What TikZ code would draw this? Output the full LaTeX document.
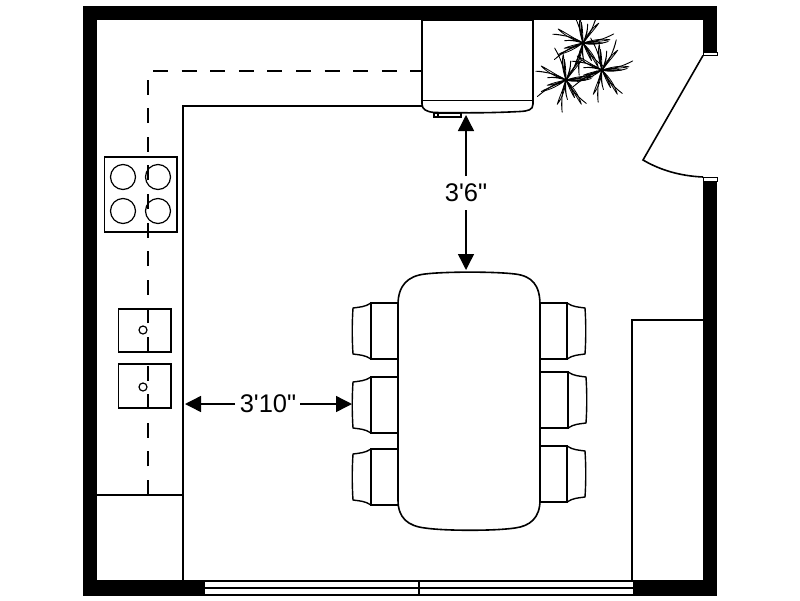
\documentclass[tikz,border=0pt]{standalone}
\usepackage{fontspec}
\newfontfamily\lab{Liberation Sans}
\usetikzlibrary{arrows.meta}
\tikzset{
  x=1pt,y=-1pt,
  line/.style={draw=black,line width=1.6pt},
  thin line/.style={draw=black,line width=1.2pt},
  wall/.style={fill=black,draw=none},
  dashline/.style={draw=black,line width=1.6pt,dash pattern=on 15pt off 13.6pt},
  dim/.style={draw=black,line width=1.4pt,-{Triangle[length=16pt,width=16pt]},shorten >=0pt},
  dimtext/.style={font=\lab\fontsize{25.5}{25.5}\selectfont,inner sep=0pt},
  chair/.pic={
    \draw[line,line width=1.4pt,line join=round] (-27,0) .. controls (-33,4) and (-38,4) .. (-45,5)
      .. controls (-46,20) and (-46,36) .. (-45,51) .. controls (-38,52) and (-33,52) .. (-27,56);
    \draw[line] (0,0) -- (-27,0) -- (-27,56) -- (0,56);
  },
  leaf/.style={draw=black,line width=.8pt,line join=round},
  plant/.pic={
    \foreach \a/\l/\b in {2/31/-5,24/26/5,48/32/-6,70/24/5,96/33/-5,118/24/6,146/30/-6,170/27/6,196/32/-5,222/26/5,246/31/-6,272/24/6,296/30/-5,322/27/6,345/24/-5,
      14/19/3,62/19/-3,108/20/3,158/18/-3,210/19/3,260/19/-3,310/19/3}{
      \draw[leaf,rotate=\a] (0,0) .. controls (.35*\l,.2*\b) and (.7*\l,.6*\b) .. (\l,1.6*\b)
        .. controls (.7*\l,\b+1.2) and (.35*\l,.2*\b+1.5) .. (0,0);
    }
    \fill (0,0) circle (2pt);
  }
}
\begin{document}
\begin{tikzpicture}
\useasboundingbox (0,0) rectangle (800,600);
\fill[white] (0,0) rectangle (800,600);
% walls
\fill[wall] (83,6) rectangle (717,20);
\fill[wall] (83,6) rectangle (97,596);
\fill[wall] (703,6) rectangle (717,53);
\fill[wall] (703,177) rectangle (717,596);
\fill[wall] (83,580) rectangle (204,596);
\fill[wall] (634,580) rectangle (717,596);
% door jambs
\draw[thin line,fill=white,line width=.6pt] (703,52) rectangle (717,55.5);
\draw[thin line,fill=white,line width=.6pt] (703,177) rectangle (717,181);
% window
\draw[thin line,fill=white] (204,581) rectangle (634,595);
\draw[line] (204,588) -- (634,588);
\draw[line] (419,581) -- (419,595);
% counters
\draw[line] (183,580) -- (183,106) -- (422,106);
\draw[line] (97,495) -- (183,495);
\draw[line] (632,580) -- (632,320) -- (703,320);
\coordinate (dashA) at (148,495);
\coordinate (dashB) at (148,71);
\coordinate (dashC) at (422,71);
\draw[dashline] (dashA) -- (dashB) -- (dashC);
% hob
\draw[thin line] (104.5,157) rectangle (177,232);
\foreach \p in {(123,177),(158,177),(123,211),(158,211)}
  \draw[thin line] \p circle (12.5);
% sinks
\draw[thin line] (118.5,309) rectangle (171,352);
\draw[thin line] (118.5,364) rectangle (171,408);
\draw[thin line,fill=white] (143,330) circle (4);
\draw[thin line,fill=white] (143,387) circle (4);
% fridge
\draw[line,fill=white] (422,20) -- (533,20) -- (533,104) .. controls (533,110) and (528,111) .. (520,111.5)
  .. controls (490,113) and (470,113) .. (435,112.5) .. controls (426,112) and (422,109) .. (422,104) -- cycle;
\draw[line] (422,100.5) -- (533,100.5);
\draw[thin line] (434,113) rectangle (461,117);
\draw[thin line] (438,113) -- (438,116);
% plant
\begin{scope}
\clip (535,20) rectangle (700,130);
\path (583,43) pic {plant};
\path (602,70) pic {plant};
\path (566,80) pic {plant};
\end{scope}
% door leaf
\draw[line] (703,55.5) -- (643,160) .. controls (660,170) and (680,176) .. (703,177);
% chairs
\path (398,303) pic {chair};
\path (398,377) pic {chair};
\path (398,449) pic {chair};
\path (540,303) pic[xscale=-1] {chair};
\path (541,372) pic[xscale=-1] {chair};
\path (540,446) pic[xscale=-1] {chair};
% table
\draw[line,fill=white] (398,500) -- (398,305) .. controls (398,285) and (408,276) .. (425,274)
  .. controls (445,271.5) and (495,271.5) .. (515,274) .. controls (532,276) and (540,285) .. (540,305)
  -- (540,500) .. controls (540,518) and (530,526) .. (515,528) .. controls (495,531) and (445,531) .. (425,528)
  .. controls (408,526) and (398,518) .. (398,500) -- cycle;
% dimensions
\node[dimtext] (vdim) at (466,193) {3'6"};
\node[dimtext] (hdim) at (268,403.5) {3'10"};
\coordinate (vtop) at (466,115);
\coordinate (vbot) at (466,270);
\coordinate (hleft) at (185,404);
\coordinate (hright) at (352,404);
\draw[dim] (466,176) -- (vtop);
\draw[dim] (466,210) -- (vbot);
\draw[dim] (235,404) -- (hleft);
\draw[dim] (300,404) -- (hright);
\end{tikzpicture}
\end{document}
